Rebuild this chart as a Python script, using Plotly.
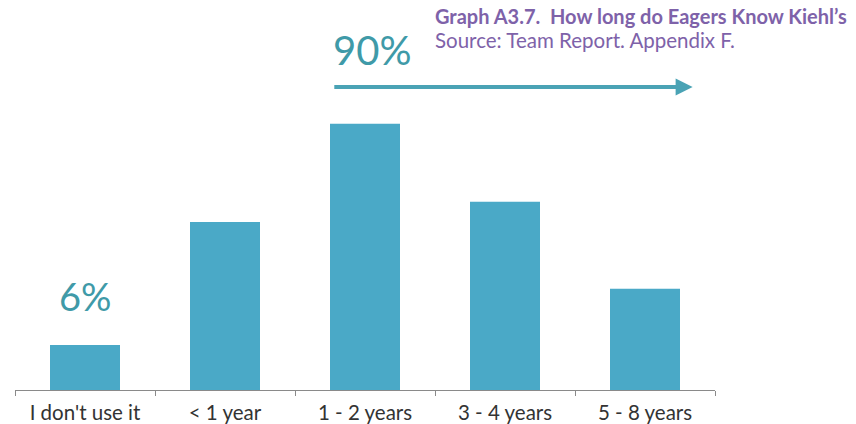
import plotly.graph_objects as go

# Share of respondents by how long they have known the brand (%)
categories = ["I don't use it", "< 1 year", "1 - 2 years", "3 - 4 years", "5 - 8 years"]
shares = [6, 22.4, 35.5, 25.1, 13.5]

bar_color = "#4aa9c7"
teal_text = "#3f9aa8"
purple = "#7e62a9"
font_family = "Lato, 'Open Sans', sans-serif"

fig = go.Figure(
    go.Bar(
        x=categories,
        y=shares,
        marker=dict(color=bar_color, line=dict(width=0)),
        width=0.5,
        hoverinfo="x+y",
    )
)

fig.update_layout(
    width=856,
    height=424,
    margin=dict(l=15, r=141, t=90, b=34),
    paper_bgcolor="white",
    plot_bgcolor="white",
    showlegend=False,
    font=dict(family=font_family),
    xaxis=dict(
        type="category",
        automargin=False,
        tickson="boundaries",
        ticks="outside",
        ticklen=5,
        tickcolor="#8a8a8a",
        showline=True,
        linecolor="#8a8a8a",
        linewidth=1,
        showgrid=False,
        ticklabelstandoff=4,
        tickfont=dict(size=20.5, color="#333333", family=font_family),
    ),
    yaxis=dict(range=[0, 40], visible=False, showgrid=False, zeroline=False),
    annotations=[
        dict(
            text="<b>Graph A3.7.  How long do Eagers Know Kiehl’s</b>",
            xref="paper", yref="paper", x=(433 - 15) / 700, y=1 + (90 - 16) / 300,
            xanchor="left", yanchor="middle", showarrow=False,
            font=dict(size=20, color=purple),
        ),
        dict(
            text="Source: Team Report. Appendix F.",
            xref="paper", yref="paper", x=(433 - 15) / 700, y=1 + (90 - 40) / 300,
            xanchor="left", yanchor="middle", showarrow=False,
            font=dict(size=20.5, color=purple),
        ),
        dict(
            text=f"{shares[0]:g}%",
            xref="x", yref="y", x=categories[0], y=shares[0] + 6.5,
            showarrow=False, font=dict(size=38, color=teal_text),
        ),
        dict(
            text="90%",
            xref="paper", yref="paper", x=(372 - 15) / 700, y=1 + (90 - 50) / 300,
            xanchor="center", yanchor="middle",
            showarrow=False, font=dict(size=40, color=teal_text),
        ),
        dict(
            text="",
            xref="x", yref="paper", x=4.34, y=1 + (90 - 87) / 300,
            axref="x", ayref="pixel", ax=1.77, ay=0,
            showarrow=True, arrowhead=2, arrowsize=0.85, arrowwidth=4,
            arrowcolor="#4aa3b5",
        ),
    ],
)

fig.write_html("out.html")
